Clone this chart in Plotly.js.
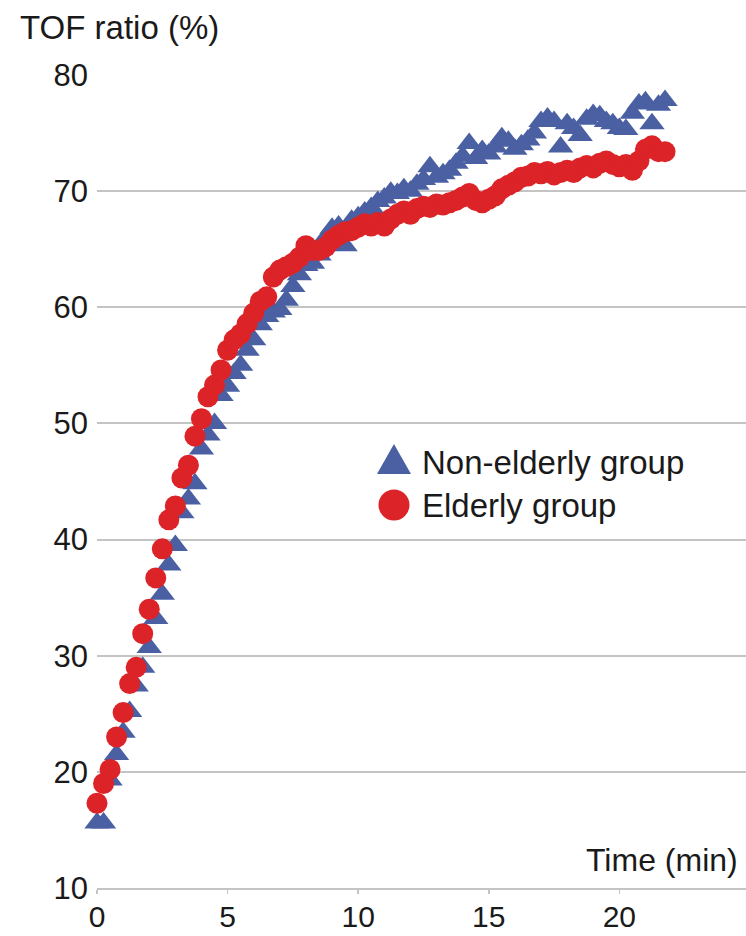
<!DOCTYPE html>
<html>
<head>
<meta charset="utf-8">
<script src="https://cdn.plot.ly/plotly-3.0.1.min.js"></script>
<style>
  html, body { margin: 0; padding: 0; background: #ffffff; }
  #chart { width: 746px; height: 936px; }
</style>
</head>
<body>
<div id="chart"></div>
<script>
// Time points (min)
const timeMin = [
  0, 0.25, 0.5, 0.75, 1, 1.25, 1.5, 1.75, 2, 2.25,
  2.5, 2.75, 3, 3.25, 3.5, 3.75, 4, 4.25, 4.5, 4.75,
  5, 5.25, 5.5, 5.75, 6, 6.25, 6.5, 6.75, 7, 7.25,
  7.5, 7.75, 8, 8.25, 8.5, 8.75, 9, 9.25, 9.5, 9.75,
  10, 10.25, 10.5, 10.75, 11, 11.25, 11.5, 11.75, 12, 12.25,
  12.5, 12.75, 13, 13.25, 13.5, 13.75, 14, 14.25, 14.5, 14.75,
  15, 15.25, 15.5, 15.75, 16, 16.25, 16.5, 16.75, 17, 17.25,
  17.5, 17.75, 18, 18.25, 18.5, 18.75, 19, 19.25, 19.5, 19.75,
  20, 20.25, 20.5, 20.75, 21, 21.25, 21.5, 21.75
];

// TOF ratio (%) – Non-elderly group (triangles)
const nonElderlyTOF = [
  15.6, 15.6, 19.3, 21.5, 23.4, 25.2, 27.4, 29.0, 30.7, 33.2,
  35.3, 37.8, 39.5, 42.3, 43.5, 44.8, 47.8, 49.0, 50.0, 52.4,
  53.2, 54.3, 55.0, 56.3, 57.2, 58.5, 59.2, 59.6, 59.8, 60.6,
  61.8, 62.8, 63.6, 63.8, 64.5, 66.0, 66.8, 67.0, 65.3, 67.5,
  67.8, 68.2, 68.6, 69.1, 69.4, 69.9, 69.8, 70.2, 70.0, 70.6,
  71.0, 72.1, 71.2, 71.5, 71.8, 72.4, 73.0, 74.1, 72.8, 73.5,
  73.2, 73.8, 74.6, 74.3, 73.6, 74.0, 74.4, 75.0, 76.0, 76.3,
  76.0, 73.8, 75.8, 75.4, 74.8, 76.2, 76.6, 76.5, 76.0, 75.8,
  75.4, 75.3, 76.7, 77.5, 77.7, 75.8, 77.4, 77.8
];

// TOF ratio (%) – Elderly group (circles)
const elderlyTOF = [
  17.3, 19.0, 20.2, 23.0, 25.1, 27.6, 29.0, 31.9, 34.0, 36.7,
  39.2, 41.7, 42.9, 45.3, 46.4, 48.9, 50.4, 52.3, 53.3, 54.6,
  56.3, 57.2, 57.7, 58.6, 59.5, 60.5, 60.9, 62.6, 63.2, 63.5,
  63.8, 64.3, 65.3, 64.9, 64.9, 65.2, 65.8, 66.2, 66.5, 66.6,
  66.9, 67.2, 67.0, 67.3, 67.0, 67.6, 68.0, 68.3, 68.0, 68.5,
  68.7, 68.6, 68.9, 68.8, 69.0, 69.2, 69.5, 69.8, 69.2, 69.0,
  69.3, 69.6, 70.2, 70.5, 70.8, 71.2, 71.3, 71.6, 71.5, 71.7,
  71.4, 71.6, 71.8, 71.6, 72.0, 72.2, 72.0, 72.4, 72.6, 72.3,
  72.1, 72.3, 71.8, 72.6, 73.6, 73.9, 73.4, 73.4
];

const seriesNames = ["Non-elderly group", "Elderly group"];
const xTicks = [0, 5, 10, 15, 20];
const yTicks = [10, 20, 30, 40, 50, 60, 70, 80];
const yTitle = "TOF ratio (%)";
const xTitle = "Time (min)";

const BLUE = "#4a60a3";
const RED = "#dc2328";
const GRID = "#c4c4c4";
const FONT = "Liberation Sans, Arial, Helvetica, sans-serif";
const TXT = "#1a1a1a";

const traces = [
  {
    x: timeMin, y: nonElderlyTOF, name: seriesNames[0],
    type: "scatter", mode: "markers",
    marker: { symbol: "triangle-up", size: 22, color: BLUE, line: { width: 0 } },
    cliponaxis: false, showlegend: false
  },
  {
    x: timeMin, y: elderlyTOF, name: seriesNames[1],
    type: "scatter", mode: "markers",
    marker: { symbol: "circle", size: 21, color: RED, line: { width: 0 } },
    cliponaxis: false, showlegend: false
  }
];

const layout = {
  width: 746, height: 936,
  margin: { l: 97, r: 0, t: 75, b: 48, pad: 0 },
  paper_bgcolor: "#ffffff", plot_bgcolor: "#ffffff",
  font: { family: FONT, color: TXT, size: 31 },
  showlegend: false,
  xaxis: {
    range: [0, 24.85],
    tickvals: xTicks, ticktext: xTicks.map(String),
    ticks: "outside", ticklen: 4, tickwidth: 1.5, tickcolor: GRID,
    showline: true, linecolor: GRID, linewidth: 2,
    showgrid: false, zeroline: false, ticklabelstandoff: -3,
    tickfont: { size: 30, family: FONT, color: TXT }
  },
  yaxis: {
    range: [10, 80],
    tickvals: yTicks, ticktext: yTicks.map(String),
    ticks: "", showline: false,
    showgrid: true, gridcolor: GRID, gridwidth: 2,
    zeroline: false, ticklabelstandoff: 8,
    tickfont: { size: 31, family: FONT, color: TXT }
  },
  annotations: [
    { text: yTitle, xref: "paper", yref: "paper", x: -0.121, y: 1.059,
      xanchor: "left", yanchor: "middle", showarrow: false,
      font: { size: 33, family: FONT, color: TXT } },
    { text: xTitle, xref: "paper", yref: "paper", x: 0.991, y: 0.034,
      xanchor: "right", yanchor: "middle", showarrow: false,
      font: { size: 32, family: FONT, color: TXT } },
    { text: seriesNames[0], xref: "paper", yref: "paper", x: 0.497, y: 0.5228,
      xanchor: "left", yanchor: "middle", showarrow: false,
      font: { size: 33, family: FONT, color: TXT } },
    { text: seriesNames[1], xref: "paper", yref: "paper", x: 0.497, y: 0.471,
      xanchor: "left", yanchor: "middle", showarrow: false,
      font: { size: 33, family: FONT, color: TXT } }
  ],
  shapes: [
    { type: "path", xref: "paper", yref: "paper",
      xsizemode: "pixel", ysizemode: "pixel",
      xanchor: 0.4576, yanchor: 0.5228,
      path: "M -17,-11 L 17,-11 L 0,19 Z",
      fillcolor: BLUE, line: { width: 0 } },
    { type: "circle", xref: "paper", yref: "paper",
      xsizemode: "pixel", ysizemode: "pixel",
      xanchor: 0.4576, yanchor: 0.471,
      x0: -15.5, x1: 15.5, y0: -15.5, y1: 15.5,
      fillcolor: RED, line: { width: 0 } }
  ]
};

Plotly.newPlot("chart", traces, layout, { displayModeBar: false, staticPlot: true });
</script>
</body>
</html>
